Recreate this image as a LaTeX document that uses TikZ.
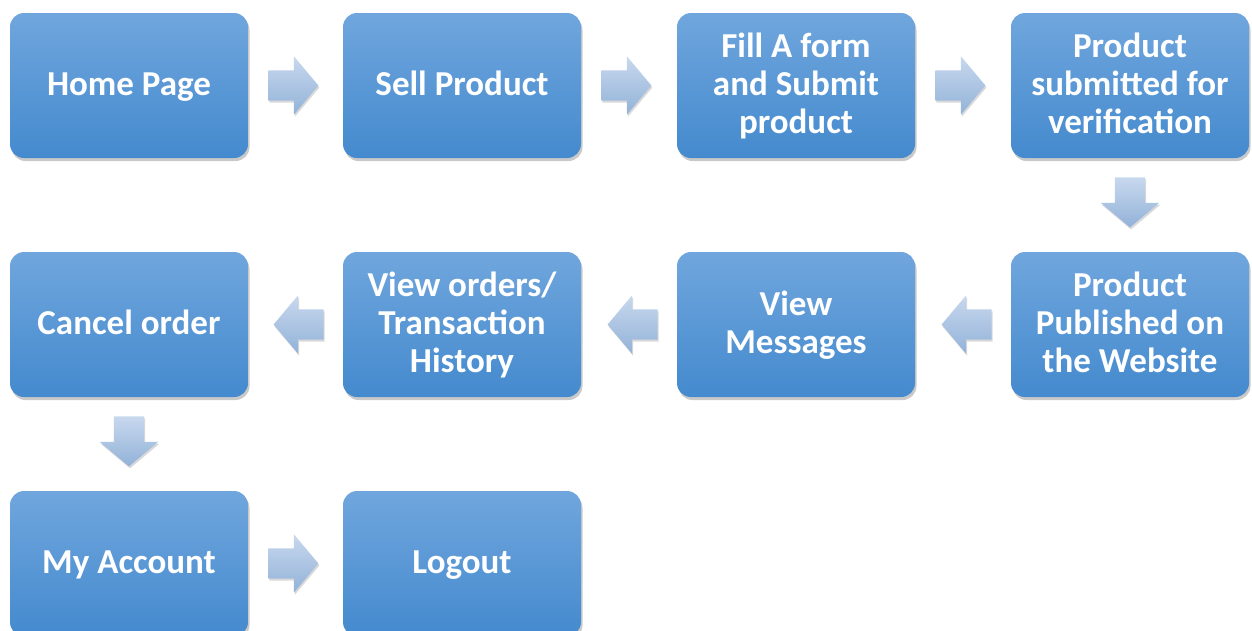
\documentclass[tikz,border=0pt]{standalone}
\usepackage{fontspec}
\setmainfont{Carlito}
\usetikzlibrary{shapes.arrows,shadows,calc}
\definecolor{boxtop}{RGB}{112,166,221}
\definecolor{boxbot}{RGB}{68,138,206}
\definecolor{arrtop}{RGB}{200,216,238}
\definecolor{arrbot}{RGB}{146,178,216}
\newcommand\lnstrut{\rule[-8.9pt]{0pt}{38pt}}
\tikzset{
  stepbox/.style={rectangle, rounded corners=14pt, minimum width=238pt, minimum height=145pt,
    top color=boxtop, bottom color=boxbot, draw=none, text=white, align=center,
    font=\fontsize{35}{38}\selectfont\bfseries,
    drop shadow={shadow xshift=1.5pt, shadow yshift=-3pt, opacity=0.3, fill=black!70}},
  flowarrow/.style={single arrow, draw=none, inner sep=15pt, minimum height=50pt,
    single arrow head extend=14pt, single arrow tip angle=100, anchor=tail,
    top color=arrtop, bottom color=arrbot,
    drop shadow={shadow xshift=1pt, shadow yshift=-2pt, opacity=0.25, fill=black!60}},
}
\begin{document}
\begin{tikzpicture}[x=1pt,y=-1pt]
\useasboundingbox (0,0) rectangle (1252,630);
\node[stepbox] (home) at (129,85.5) {\lnstrut Home Page};
\node[stepbox] (sell) at (462,85.5) {\lnstrut Sell Product};
\node[stepbox] (fill) at (796,85.5) {\lnstrut Fill A form\\\lnstrut and Submit\\\lnstrut product};
\node[stepbox] (verif) at (1130,85.5) {\lnstrut Product\\\lnstrut submitted for\\\lnstrut verification};
\node[stepbox] (pub) at (1130,324.5) {\lnstrut Product\\\lnstrut Published on\\\lnstrut the Website};
\node[stepbox] (msg) at (796,324.5) {\lnstrut View\\\lnstrut Messages};
\node[stepbox] (orders) at (462,324.5) {\lnstrut View orders/\\\lnstrut Transaction\\\lnstrut History};
\node[stepbox] (cancel) at (129,324.5) {\lnstrut Cancel order};
\node[stepbox] (acct) at (129,563.5) {\lnstrut My Account};
\node[stepbox] (logout) at (462,563.5) {\lnstrut Logout};
\node[flowarrow] (a1) at ([xshift=20pt]home.east) {};
\node[flowarrow] (a2) at ([xshift=20pt]sell.east) {};
\node[flowarrow] (a3) at ([xshift=20pt]fill.east) {};
\node[flowarrow, shape border rotate=270] (a4) at ([yshift=-19pt]verif.south) {};
\node[flowarrow, shape border rotate=180] (a5) at ([xshift=-19pt]pub.west) {};
\node[flowarrow, shape border rotate=180] (a6) at ([xshift=-19pt]msg.west) {};
\node[flowarrow, shape border rotate=180] (a7) at ([xshift=-19pt]orders.west) {};
\node[flowarrow, shape border rotate=270] (a8) at ([yshift=-19pt]cancel.south) {};
\node[flowarrow] (a9) at ([xshift=20pt]acct.east) {};
\end{tikzpicture}
\end{document}
